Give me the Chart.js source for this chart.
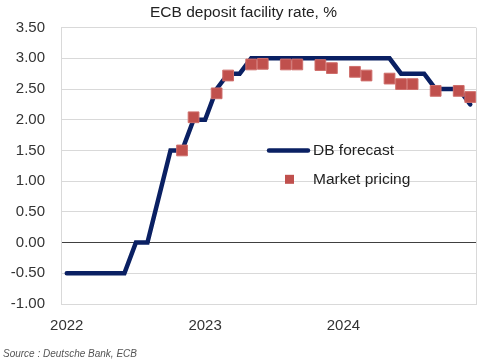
<!DOCTYPE html>
<html>
<head>
<meta charset="utf-8">
<script src="https://cdn.jsdelivr.net/npm/chart.js@4/dist/chart.umd.min.js"></script>
<style>
  html, body { margin: 0; padding: 0; background: #ffffff; }
  #wrap { position: relative; width: 489px; height: 361px; overflow: hidden; }
  #chart { position: absolute; left: 0; top: 0; }
  #source { position: absolute; left: 3px; top: 348px; font: italic 10px 'Liberation Sans', Arial, sans-serif; line-height: 12px; color: #555555; white-space: nowrap; }
</style>
</head>
<body>
<div id="wrap">
  <canvas id="chart" width="489" height="361"></canvas>
  <div id="source">Source : Deutsche Bank, ECB</div>
</div>
<script>
// ---- data ----
const months = [
  'Jan-22','Feb-22','Mar-22','Apr-22','May-22','Jun-22','Jul-22','Aug-22','Sep-22','Oct-22','Nov-22','Dec-22',
  'Jan-23','Feb-23','Mar-23','Apr-23','May-23','Jun-23','Jul-23','Aug-23','Sep-23','Oct-23','Nov-23','Dec-23',
  'Jan-24','Feb-24','Mar-24','Apr-24','May-24','Jun-24','Jul-24','Aug-24','Sep-24','Oct-24','Nov-24','Dec-24'
];
const xTickLabels = ['2022', '2023', '2024'];
const dbForecast = [
  -0.5, -0.5, -0.5, -0.5, -0.5, -0.5, 0, 0, 0.75, 1.5, 1.5, 2.0,
  2.0, 2.5, 2.75, 2.75, 3.0, 3.0, 3.0, 3.0, 3.0, 3.0, 3.0, 3.0,
  3.0, 3.0, 3.0, 3.0, 3.0, 2.75, 2.75, 2.75, 2.5, 2.5, 2.5, 2.25
];
const marketPricing = [
  null, null, null, null, null, null, null, null, null, null, 1.50, 2.04,
  null, 2.43, 2.72, null, 2.90, 2.91, null, 2.90, 2.90, null, 2.89, 2.84,
  null, 2.78, 2.72, null, 2.67, 2.58, 2.58, null, 2.47, null, 2.47, 2.37
];
const seriesNames = ['DB forecast', 'Market pricing'];
const titleText = 'ECB deposit facility rate, %';

// ---- styles ----
const NAVY = '#0a2063';
const RED = '#c0504d';
const FONT = "'Liberation Sans', Arial, sans-serif";

const frameAndLegend = {
  id: 'frameAndLegend',
  beforeDatasetsDraw(chart) {
    const { ctx, chartArea: a } = chart;
    ctx.save();
    ctx.strokeStyle = '#d9d9d9';
    ctx.lineWidth = 1;
    ctx.beginPath();
    ctx.moveTo(Math.round(a.right) + 0.5, a.top);
    ctx.lineTo(Math.round(a.right) + 0.5, a.bottom);
    ctx.stroke();
    ctx.restore();
  },
  afterDraw(chart) {
    const { ctx, chartArea: a } = chart;
    const ys = chart.scales.y;
    const lx = a.left + 208;
    const ly1 = ys.getPixelForValue(1.5);
    const ly2 = ys.getPixelForValue(1.03);
    ctx.save();
    ctx.strokeStyle = NAVY;
    ctx.lineWidth = 4.5;
    ctx.lineCap = 'round';
    ctx.beginPath();
    ctx.moveTo(lx, ly1);
    ctx.lineTo(lx + 39, ly1);
    ctx.stroke();
    ctx.fillStyle = RED;
    ctx.fillRect(lx + 16, ly2 - 4.5, 9, 9);
    ctx.fillStyle = '#222222';
    ctx.font = "15.5px " + FONT;
    ctx.textBaseline = 'middle';
    ctx.textAlign = 'left';
    ctx.fillText(seriesNames[0], lx + 44, ly1);
    ctx.fillText(seriesNames[1], lx + 44, ly2);
    ctx.restore();
  }
};

new Chart(document.getElementById('chart'), {
  type: 'line',
  data: {
    labels: months,
    datasets: [
      {
        label: seriesNames[1],
        data: marketPricing,
        showLine: false,
        pointStyle: 'rect',
        pointRadius: 7.6,
        pointHoverRadius: 7.6,
        backgroundColor: RED,
        borderColor: '#cf6e6b',
        pointBorderWidth: 1,
        order: 0
      },
      {
        label: seriesNames[0],
        data: dbForecast,
        borderColor: NAVY,
        borderWidth: 4.5,
        pointRadius: 0,
        tension: 0,
        fill: false,
        borderJoinStyle: 'miter',
        borderCapStyle: 'round',
        order: 1
      }
    ]
  },
  options: {
    responsive: false,
    animation: false,
    devicePixelRatio: 1,
    layout: { padding: { left: 11, right: 13, top: 0, bottom: 26 } },
    plugins: {
      legend: { display: false },
      tooltip: { enabled: false },
      title: {
        display: true,
        text: titleText,
        color: '#222222',
        font: { family: FONT, size: 15.5, weight: 'normal' },
        padding: { top: 3, bottom: 6 }
      }
    },
    scales: {
      x: {
        type: 'category',
        offset: true,
        grid: { display: false, drawTicks: false },
        border: { display: true, color: '#d9d9d9', width: 1 },
        afterFit: (s) => { s.height = 31; s.paddingLeft = 0; s.paddingRight = 0; },
        ticks: {
          autoSkip: false,
          maxRotation: 0,
          minRotation: 0,
          padding: 13,
          color: '#333333',
          font: { family: FONT, size: 15 },
          callback: (v, i) => (i % 12 === 0 ? xTickLabels[i / 12] : '')
        }
      },
      y: {
        min: -1,
        max: 3.5,
        afterFit: (s) => { s.width = 50; s.paddingTop = 0; s.paddingBottom = 0; },
        grid: {
          drawTicks: false,
          color: (c) => (c.tick && c.tick.value === 0 ? '#404040' : '#d9d9d9'),
          lineWidth: 1
        },
        border: { display: true, color: '#d9d9d9', width: 1 },
        ticks: {
          stepSize: 0.5,
          padding: 16,
          color: '#333333',
          font: { family: FONT, size: 15 },
          callback: (v) => Number(v).toFixed(2)
        }
      }
    }
  },
  plugins: [frameAndLegend]
});
</script>
</body>
</html>
